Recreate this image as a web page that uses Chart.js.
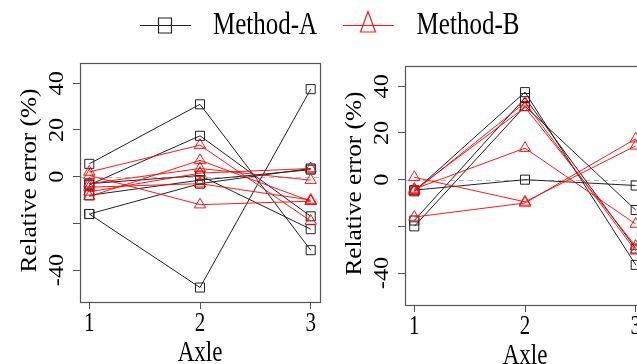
<!DOCTYPE html>
<html>
<head>
<meta charset="utf-8">
<script src="https://cdn.jsdelivr.net/npm/chart.js@4.4.1/dist/chart.umd.min.js"></script>
<style>
    html, body { margin: 0; padding: 0; background: #fff; }
    body { width: 637px; height: 364px; overflow: hidden; position: relative; }
    canvas { position: absolute; }
    #leftChart { left: 0; top: 0; }
    #rightChart { left: 325px; top: 3px; }
</style>
</head>
<body>
<canvas id="leftChart" width="637" height="364"></canvas>
<canvas id="rightChart" width="330" height="364"></canvas>
<script>
const axles = [1, 2, 3]
const xTickLabels = ["1", "2", "3"]
const yTickValues = [-40, -20, 0, 20, 40]
const yTickLabels = ["-40", "", "0", "20", "40"]
const xTitle = "Axle"
const yTitle = "Relative error (%)"
const legendNames = ["Method-A", "Method-B"]

// relative error (%) at axle 1, 2, 3 - one row per case
const leftMethodA = [
    [5.5, 31, -31.5],
    [-16, -47.5, 37.5],
    [-3.5, 17.5, -17],
    [-16, -3, 3.5],
    [-8, -1.5, 3],
    [-3, 0.5, -22.5]
]
const leftMethodB = [
    [2, 13.5, -19],
    [0.5, -12, -10.5],
    [-8.5, 7, -10.5],
    [-6.5, 1.5, 3.5],
    [-3, 3.5, -1.5],
    [-4.5, -3, -10]
]
const rightMethodA = [
    [-5, 37.5, -36.5],
    [-17.5, 35, -29.5],
    [-20, 31.5, -13],
    [-4.5, 0, -2.5]
]
const rightMethodB = [
    [-4, 13.5, -19],
    [-16, -10, 17.5],
    [1, -9.5, 14.5],
    [-5, 33, -30.5],
    [-4.5, 31, -28.5]
]

const FONT = "'Liberation Serif', 'Times New Roman', serif"
const STRETCH_H = 1.3
const STRETCH_V = 1.1
const BLACK = "#222"
const RED = "rgba(255,0,0,0.9)"

function text(ctx, str, x, y, size, vertical) {
    ctx.save()
    ctx.translate(x, y)
    if (vertical) {
        ctx.rotate(-Math.PI / 2)
        ctx.scale(STRETCH_V, 1)
    } else {
        ctx.scale(1, STRETCH_H)
    }
    ctx.font = size + "px " + FONT
    ctx.fillStyle = "#000"
    ctx.textAlign = "center"
    ctx.textBaseline = "alphabetic"
    ctx.fillText(str, 0, 0)
    ctx.restore()
}

function series(rows, color, style) {
    return rows.map(row => ({
        data: axles.map((a, i) => ({ x: a, y: row[i] })),
        borderColor: color,
        borderWidth: 1,
        pointStyle: style,
        pointRadius: style == "rect" ? 6.4 : 6.5,
        pointBorderColor: color,
        pointBackgroundColor: "rgba(0,0,0,0)",
        pointBorderWidth: 1,
        tension: 0
    }))
}

const panelDecor = {
    id: "panelDecor",
    beforeDatasetsDraw(chart) {
        const { ctx, chartArea: a, scales: { y } } = chart
        const y0 = Math.round(y.getPixelForValue(0)) + 0.5
        ctx.save()
        ctx.strokeStyle = "#b8b8b8"
        ctx.lineWidth = 1
        ctx.setLineDash([5, 4])
        ctx.beginPath()
        ctx.moveTo(a.left, y0)
        ctx.lineTo(a.right, y0)
        ctx.stroke()
        ctx.restore()
    },
    afterDraw(chart) {
        const { ctx, chartArea: a, scales: { x, y } } = chart
        ctx.save()
        ctx.strokeStyle = "#555"
        ctx.lineWidth = 1.2
        ctx.strokeRect(a.left + 0.5, a.top + 0.5, a.right - a.left, a.bottom - a.top)
        ctx.restore()

        x.ticks.forEach((t, i) => {
            text(ctx, xTickLabels[i], x.getPixelForValue(t.value), a.bottom + 29, 21, false)
        })
        y.ticks.forEach((t, i) => {
            text(ctx, yTickLabels[i], a.left - 17, y.getPixelForValue(t.value), 22, true)
        })
        text(ctx, xTitle, (a.left + a.right) / 2, a.bottom + 59, 23, false)
        text(ctx, yTitle, a.left - 44, (a.top + a.bottom) / 2 - 2, 23, true)
    }
}

const legendDecor = {
    id: "legendDecor",
    afterDraw(chart) {
        const ctx = chart.ctx
        const items = [
            { x: 140, color: BLACK, name: legendNames[0], shape: "square" },
            { x: 343, color: RED, name: legendNames[1], shape: "triangle" }
        ]
        items.forEach(it => {
            const cy = 25.5
            const cx = it.x + 25
            ctx.save()
            ctx.strokeStyle = it.color
            ctx.lineWidth = 1.2
            ctx.beginPath()
            ctx.moveTo(it.x, cy)
            ctx.lineTo(it.x + 51, cy)
            ctx.stroke()
            ctx.beginPath()
            if (it.shape == "square") {
                ctx.rect(cx - 6.5, cy - 7.5, 13, 15)
            } else {
                ctx.moveTo(cx, cy - 14)
                ctx.lineTo(cx + 7.5, cy + 6.5)
                ctx.lineTo(cx - 7.5, cy + 6.5)
                ctx.closePath()
            }
            ctx.stroke()
            ctx.restore()
            text(ctx, it.name, it.x + 73 + 52, 34, 25, false)
        })
    }
}

function options(padRight) {
    this.responsive = false
    this.animation = false
    this.layout = { padding: { left: 0, top: 63, right: padRight, bottom: 0 } }
    this.plugins = { legend: { display: false }, tooltip: { enabled: false } }
    this.scales = {
        x: {
            type: "linear",
            min: 0.916,
            max: 3.084,
            afterBuildTicks: s => { s.ticks = axles.map(v => ({ value: v })) },
            afterFit: s => { s.height = 62 },
            ticks: { display: false },
            border: { display: false },
            grid: { drawOnChartArea: false, drawTicks: true, tickLength: 7, color: "#555" }
        },
        y: {
            type: "linear",
            min: -53.7,
            max: 48.7,
            afterBuildTicks: s => { s.ticks = yTickValues.map(v => ({ value: v })) },
            afterFit: s => { s.width = 80 },
            ticks: { display: false },
            border: { display: false },
            grid: { drawOnChartArea: false, drawTicks: true, tickLength: 7, color: "#555" }
        }
    }
}

const leftChart = new Chart(
    document.getElementById("leftChart"),
    {
        type: "line",
        data: {
            datasets: series(leftMethodB, RED, "triangle").concat(series(leftMethodA, BLACK, "rect"))
        },
        options: new options(317),
        plugins: [panelDecor, legendDecor]
    }
)

const rightChart = new Chart(
    document.getElementById("rightChart"),
    {
        type: "line",
        data: {
            datasets: series(rightMethodB, RED, "triangle").concat(series(rightMethodA, BLACK, "rect"))
        },
        options: new options(10),
        plugins: [panelDecor]
    }
)
</script>
</body>
</html>
